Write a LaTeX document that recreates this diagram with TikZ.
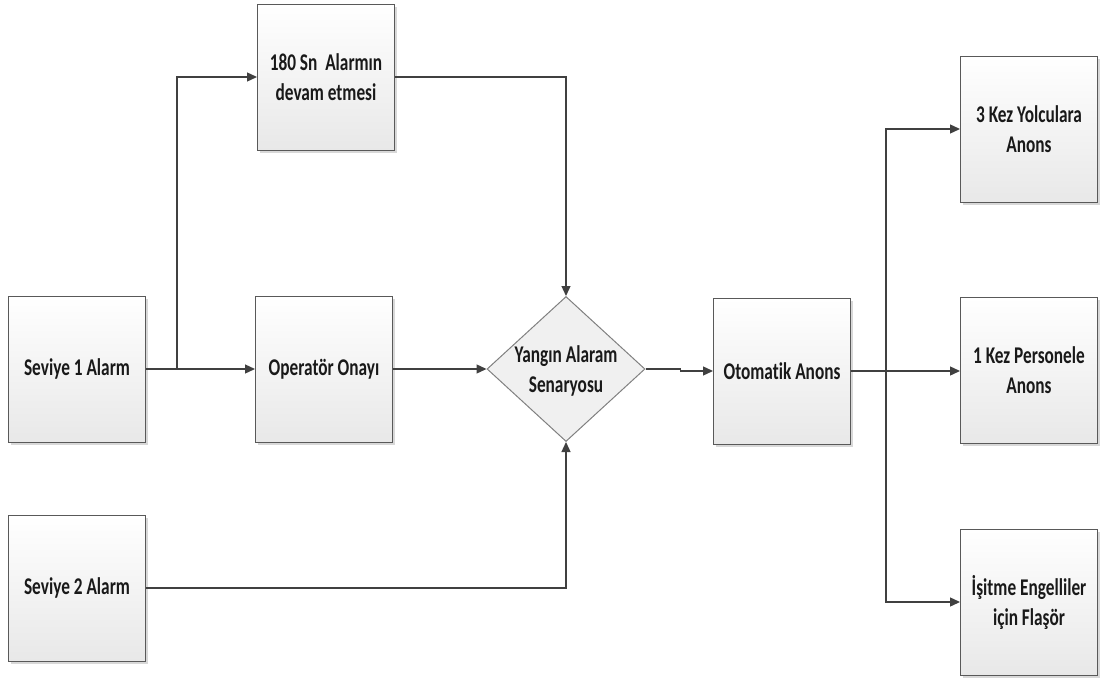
\documentclass[tikz,border=0pt]{standalone}
\usepackage{fontspec}
\setmainfont{Carlito}[FakeStretch=0.72,Ligatures=NoCommon]
\usetikzlibrary{arrows.meta,shapes.geometric,shadows}
\definecolor{edge}{HTML}{595959}
\definecolor{wire}{HTML}{404040}
\begin{document}
\begin{tikzpicture}[x=1pt,y=-1pt,
  every node/.style={font=\fontsize{24}{30}\selectfont\bfseries, align=center, text=black!90},
  boxsty/.style={rectangle, draw=edge, line width=1pt, minimum width=137pt, minimum height=146pt,
    inner sep=0pt, top color=white, bottom color=black!9,
    drop shadow={shadow xshift=2.5pt, shadow yshift=-2.5pt, fill=black!30, opacity=0.5}},
  diasty/.style={diamond, draw=black!50, line width=1pt, fill=black!6, minimum width=158pt,
    minimum height=145pt, inner sep=0pt},
  conn/.style={draw=wire, line width=1.3pt, -{Triangle[length=10pt,width=9pt]}},
  plain/.style={draw=wire, line width=1.3pt}]
\useasboundingbox (0,0) rectangle (1105,680);
% nodes
\node[boxsty] (s1) at (77,369) {Seviye 1 Alarm};
\node[boxsty] (op) at (324,369) {Operatör Onayı};
\node[boxsty] (a180) at (326,77) {180 Sn\ \ Alarmın\\devam etmesi};
\node[boxsty] (s2) at (77,588) {Seviye 2 Alarm};
\node[diasty] (dia) at (566,369) {};
\node (diat) at (566,371) {Yangın Alaram\\Senaryosu};
\node[boxsty] (oto) at (782,371) {Otomatik Anons};
\node[boxsty] (k3) at (1029,129) {3 Kez Yolculara\\Anons};
\node[boxsty] (k1) at (1029,370) {1 Kez Personele\\Anons};
\node[boxsty] (is) at (1029,602) {İşitme Engelliler\\için Flaşör};
% junctions
\coordinate (j1) at (177,369);
\coordinate (j2) at (886,371);
% connectors
\draw[plain] (s1.east) -- (j1);
\draw[conn] (j1) |- (a180.west);
\draw[conn] (j1) -- (op.west);
\draw[conn] (a180.east) -| (dia.north);
\draw[conn] (op.east) -- (dia.west);
\draw[conn] (s2.east) -| (dia.south);
\draw[conn] (dia.east) -- ++(35,0) |- (oto.west);
\draw[plain] (oto.east) -- (j2);
\draw[conn] (j2) -- (k1.west |- j2);
\draw[conn] (j2) |- (k3.west);
\draw[conn] (j2) |- (is.west);
\end{tikzpicture}
\end{document}
